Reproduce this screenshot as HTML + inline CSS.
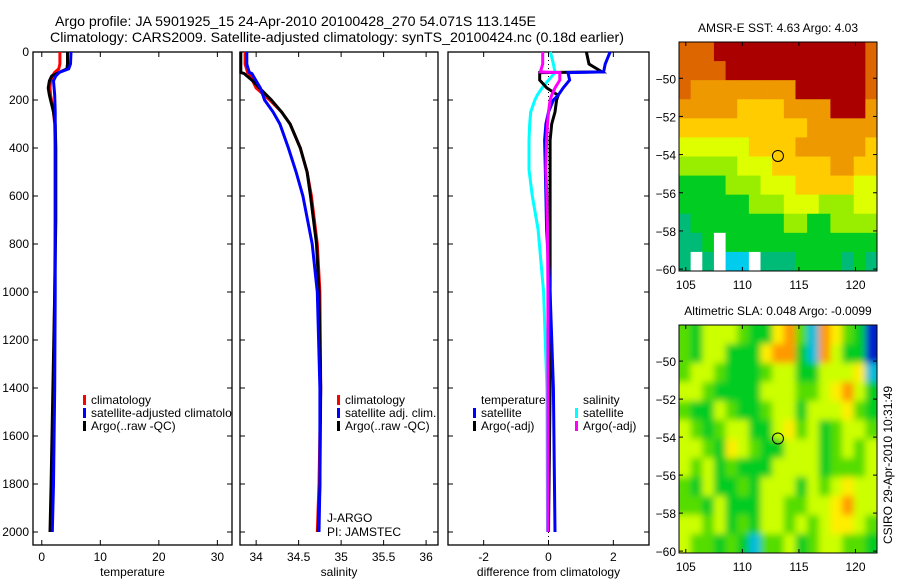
<!DOCTYPE html>
<html><head><meta charset="utf-8"><style>
html,body{margin:0;padding:0;background:#fff;}
svg text{font-family:"Liberation Sans",sans-serif;font-size:12px;fill:#000;}
</style></head><body>
<svg id="fig" width="900" height="580" viewBox="0 0 900 580" xmlns="http://www.w3.org/2000/svg">
<defs>
<filter id="blur" x="-5%" y="-5%" width="110%" height="110%"><feGaussianBlur stdDeviation="3.5"/></filter>
<clipPath id="slaclip"><rect x="679" y="325" width="198" height="228"/></clipPath>
<clipPath id="c1"><rect x="33" y="0" width="199" height="580"/></clipPath>
</defs>
<text x="55" y="26" style="font-size:14px" textLength="481" lengthAdjust="spacingAndGlyphs">Argo profile: JA 5901925_15 24-Apr-2010 20100428_270 54.071S 113.145E</text>
<text x="50" y="42" style="font-size:14px" textLength="574" lengthAdjust="spacingAndGlyphs">Climatology: CARS2009. Satellite-adjusted climatology: synTS_20100424.nc (0.18d earlier)</text>
<g id="layer"></g>
</svg>
<script>
// ---------- profile data ----------
const tempDepth = [0,50,70,85,100,120,150,180,250,300,400,700,1000,1400,1800,2000];
const tempClim  = [3.1,3.1,2.9,2.2,1.8,1.5,1.4,1.5,2.0,2.2,2.3,2.3,2.2,2.0,1.7,1.6];
const tempSat   = [5.0,4.9,4.6,3.0,2.4,2.0,2.1,2.2,2.3,2.3,2.3,2.3,2.3,2.2,2.0,1.8];
const tempArgo  = [4.4,4.4,4.3,3.0,1.7,1.3,1.1,1.3,2.0,2.3,2.4,2.4,2.2,1.9,1.6,1.4];

const salDepth = [0,50,85,90,120,150,200,250,300,400,500,600,800,1000,1400,1800,2000];
const salClim  = [33.87,33.87,33.9,33.92,33.96,34.0,34.16,34.3,34.4,34.52,34.6,34.65,34.72,34.75,34.76,34.74,34.72];
const salSat   = [33.89,33.89,33.92,33.95,34.0,34.05,34.1,34.2,34.28,34.38,34.47,34.55,34.66,34.72,34.75,34.75,34.74];
const salArgo  = [33.82,33.82,33.82,33.86,33.96,34.04,34.18,34.3,34.4,34.52,34.6,34.64,34.71,34.74,34.76,34.75,34.73];

const diffDepth = [0,50,83,86,117,150,180,200,250,300,367,490,600,740,1000,1400,2000];
const diffTSat  = [1.9,1.75,1.7,0.6,0.65,0.45,0.3,0.15,0.0,-0.08,-0.12,-0.1,-0.08,-0.06,0.05,0.15,0.2];
const diffTArgo = [1.17,1.25,1.65,-0.27,-0.27,-0.05,0.3,0.25,0.2,0.1,0.05,0.05,0.05,0.05,0.05,0.05,0.0];
const diffSSat  = [0.06,0.15,0.2,0.2,0.0,-0.2,-0.35,-0.42,-0.55,-0.58,-0.6,-0.6,-0.5,-0.32,-0.15,-0.05,-0.03];
const diffSArgo = [-0.18,-0.18,-0.25,0.35,0.35,0.2,0.1,0.05,0.0,-0.03,-0.06,-0.08,-0.05,-0.03,-0.02,-0.02,-0.02];

const depthTicks = [0,200,400,600,800,1000,1200,1400,1600,1800,2000];
const tempTicks = [0,10,20,30];
const salTicks = [34,34.5,35,35.5,36];
const diffTicks = [-2,0,2];

// ---------- map data (lat rows from -48 to -60, 1 deg lon cols 105..121) ----------
const mapLons = [105,110,115,120];
const mapLats = [-50,-52,-54,-56,-58,-60];
const sstGrid = [
"88899999999999998",
"88889999999999998",
"87777777779999998",
"77777666677779997",
"66666666666777777",
"55555566667777776",
"44444555666667766",
"33334445556666655",
"33333344455544455",
"23333333344334444",
"22303333333333333",
"20201102223333232"];
const slaGrid = [
"43555433674276431",
"43553336773275331",
"45543334553355562",
"55433335554456753",
"43354334553555643",
"54345533564534554",
"55436543355534545",
"54534333555534445",
"43533435553545655",
"44353335544556755",
"55453435545456654",
"54434324453455443"];
const sstColors = ["#ffffff","#00ccee","#00bb77","#00cc22","#99ee00","#ddff00","#ffcc00","#ee9900","#dd6600","#aa0000"];
const slaColors = ["#ffffff","#0022cc","#00bbdd","#00cc22","#55dd00","#ccff00","#ffee00","#ff9900"];
const argoLon = 113.145, argoLat = -54.071;

const NS="http://www.w3.org/2000/svg";
const layer=document.getElementById('layer');
function mk(tag,attrs,parent){const e=document.createElementNS(NS,tag);for(const k in attrs)e.setAttribute(k,attrs[k]);(parent||layer).appendChild(e);return e;}

const yTop=52, yBot=545;
const yD = d => yTop + d*0.24;

function panel(name,x0,x1,xmin,xmax,ticks,fmt,label,showY){
  const xs = v => x0 + (v-xmin)/(xmax-xmin)*(x1-x0);
  const g=mk('g',{});
  
  
  const r=mk('rect',{x:x0,y:yTop,width:x1-x0,height:yBot-yTop,fill:'none',stroke:'#000','stroke-width':1.3},g);
  
  
  ticks.forEach(t=>{
    const x=xs(t);
    mk('line',{x1:x,x2:x,y1:yBot,y2:yBot-5,stroke:'#000'},g);
    mk('line',{x1:x,x2:x,y1:yTop,y2:yTop+5,stroke:'#000'},g);
    const tx=mk('text',{x:x,y:yBot+16,'text-anchor':'middle'},g);
    tx.textContent=fmt(t);
    
    
  });
  depthTicks.forEach(d=>{
    const y=yD(d);
    mk('line',{x1:x0,x2:x0+5,y1:y,y2:y,stroke:'#000'},g);
    mk('line',{x1:x1,x2:x1-5,y1:y,y2:y,stroke:'#000'},g);
    if(showY){const t=mk('text',{x:x0-4,y:y+4,'text-anchor':'end'},g);t.textContent=d;
      
      }
  });
  const xl=mk('text',{x:(x0+x1)/2,y:576,'text-anchor':'middle'},g);
  xl.textContent=label;
  
  
  return {xs,g};
}
function series(p,depths,vals,color,name){
  const pts=depths.map((d,i)=>p.xs(vals[i]).toFixed(1)+','+yD(d).toFixed(1)).join(' ');
  const l=mk('polyline',{points:pts,fill:'none',stroke:color,'stroke-width':3},p.g);
  
  
}
function legend(g,x,y,items){
  items.forEach((it,i)=>{
    const yy=y+i*13;
    const b=mk('rect',{x:x,y:yy-5,width:3,height:10,fill:it[0]},g);
    
    
    const t=mk('text',{x:x+8,y:yy+4},g);t.textContent=it[1];
    
    
  });
}

// temperature
const p1=panel('temperature-panel',33,232,-1.5,32.5,tempTicks,String,'temperature',true);
series(p1,tempDepth,tempClim,'#ff0000','temp-climatology-line');
series(p1,tempDepth,tempArgo,'#000000','temp-argo-line');
series(p1,tempDepth,tempSat,'#0000ff','temp-satellite-line');
const lg1=mk('g',{'clip-path':'url(#c1)'},p1.g);
legend(lg1,83,400,[['#ff0000','climatology'],['#0000ff','satellite-adjusted climatology'],['#000000','Argo(..raw -QC)']]);

// salinity
const p2=panel('salinity-panel',240,438,33.81,36.14,salTicks,v=>String(v),'salinity',false);
series(p2,salDepth,salClim,'#ff0000','sal-climatology-line');
series(p2,salDepth,salArgo,'#000000','sal-argo-line');
series(p2,salDepth,salSat,'#0000ff','sal-satellite-line');
legend(p2.g,337,400,[['#ff0000','climatology'],['#0000ff','satellite adj. clim.'],['#000000','Argo(..raw -QC)']]);
[['J-ARGO',518],['PI: JAMSTEC',532]].forEach(a=>{const t=mk('text',{x:327,y:a[1]+4},p2.g);t.textContent=a[0];
  
  });

// difference
const p3=panel('difference-panel',448,649,-3.1,3.1,diffTicks,String,'difference from climatology',false);
const zl=mk('line',{x1:p3.xs(0),x2:p3.xs(0),y1:yTop,y2:yBot,stroke:'#000','stroke-dasharray':'1,3'},p3.g);


series(p3,diffDepth,diffSSat,'#00ffff','diff-sal-satellite-line');
series(p3,diffDepth,diffTArgo,'#000000','diff-temp-argo-line');
series(p3,diffDepth,diffTSat,'#0000ff','diff-temp-satellite-line');
series(p3,diffDepth,diffSArgo,'#ff00ff','diff-sal-argo-line');
const th=mk('text',{x:481,y:404},p3.g);th.textContent='temperature';


const sh=mk('text',{x:583,y:404},p3.g);sh.textContent='salinity';


legend(p3.g,473,413,[['#0000ff','satellite'],['#000000','Argo(-adj)']]);
legend(p3.g,575,413,[['#00ffff','satellite'],['#ff00ff','Argo(-adj)']]);

// maps
function map(name,x0,x1,y0,y1,grid,colors,title,smooth){
  const lonMin=104.4,lonMax=121.9,latTop=-48.1,latBot=-60.1;
  const lx=v=>x0+(v-lonMin)/(lonMax-lonMin)*(x1-x0);
  const ly=v=>y0+(latTop-v)/(latTop-latBot)*(y1-y0);
  const g=mk('g',{});
  
  
  const tt=mk('text',{x:(x0+x1)/2,y:y0-10,'text-anchor':'middle'},g);tt.textContent=title;
  
  
  const outer = smooth ? mk('g',{'clip-path':'url(#slaclip)'},g) : g;
  const cg = smooth ? mk('g',{filter:'url(#blur)'},outer) : g;
  const rows=grid.length, cols=grid[0].length;
  for(let r=0;r<rows;r++)for(let c=0;c<cols;c++){
    const lo=lonMin+c*(lonMax-lonMin)/cols, la=latTop-r*(latTop-latBot)/rows;
    const xa=lx(lo), ya=ly(la);
    const w=lx(lo+(lonMax-lonMin)/cols)-xa, h=ly(la-(latTop-latBot)/rows)-ya;
    let ex=0;
    if(smooth){ if(c===0||c===cols-1) ex=6; }
    const cell=mk('rect',{x:xa-(smooth&&c===0?6:0),y:ya-(smooth&&r===0?6:0),width:w+0.5+ex,height:h+0.5+(smooth&&(r===0||r===rows-1)?6:0),fill:colors[+grid[r][c]]},cg);
    
    
  }
  mk('rect',{x:x0,y:y0,width:x1-x0,height:y1-y0,fill:'none',stroke:'#000'},g);
  mapLons.forEach(l=>{const x=lx(l);mk('line',{x1:x,x2:x,y1:y1,y2:y1-4,stroke:'#000'},g);mk('line',{x1:x,x2:x,y1:y0,y2:y0+4,stroke:'#000'},g);
    const t=mk('text',{x:x,y:y1+18,'text-anchor':'middle'},g);t.textContent=l;
    
    });
  mapLats.forEach(l=>{const y=ly(l);mk('line',{x1:x0,x2:x0+4,y1:y,y2:y,stroke:'#000'},g);mk('line',{x1:x1,x2:x1-4,y1:y,y2:y,stroke:'#000'},g);
    const t=mk('text',{x:x0-3,y:y+5,'text-anchor':'end'},g);t.textContent=String(l).replace('-','\u2212');
    
    });
  const ci=mk('circle',{cx:lx(argoLon),cy:ly(argoLat),r:5.5,fill:'none',stroke:'#000'},g);
  
  
}
map('sst-map',679,877,42,271,sstGrid,sstColors,'AMSR-E SST: 4.63 Argo: 4.03',false);
map('sla-map',679,877,325,553,slaGrid,slaColors,'Altimetric SLA: 0.048 Argo: -0.0099',true);
const ts=mk('text',{x:892,y:465,'text-anchor':'middle',transform:'rotate(-90 892 465)'});
ts.textContent='CSIRO 29-Apr-2010 10:31:49';


</script>
</body></html>
